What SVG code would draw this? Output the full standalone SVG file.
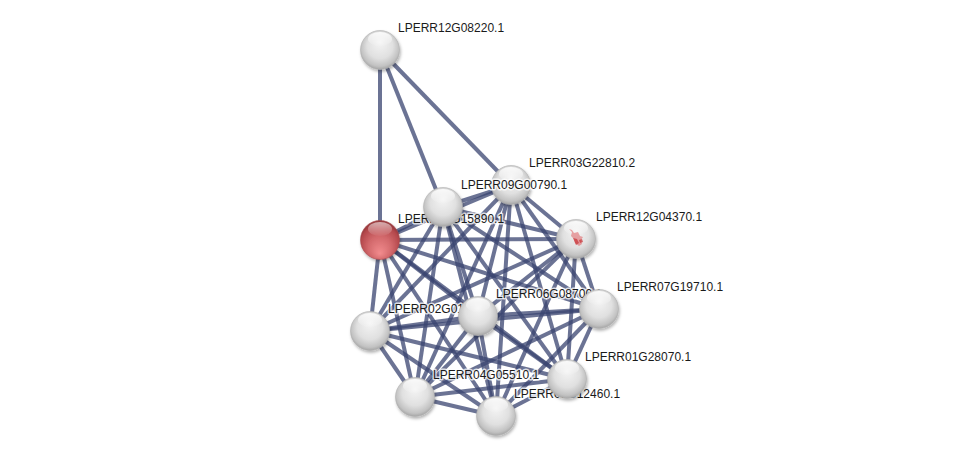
<svg xmlns="http://www.w3.org/2000/svg" width="976" height="461" viewBox="0 0 976 461">
<style>
.e{stroke:#3a4470;stroke-opacity:0.75;stroke-width:4;fill:none}
.lbl{font-family:"Liberation Sans",Arial,sans-serif;font-size:12px;fill:#1a1a1a;paint-order:stroke;stroke:#ffffff;stroke-opacity:0.75;stroke-width:3px;stroke-linejoin:round}
.n{fill:url(#gw);stroke:#b0b0b0;stroke-width:0.6;filter:url(#sh)}
.nr{fill:url(#gr);stroke:#a84a4e;stroke-width:0.6;filter:url(#sh)}
.gl{fill:url(#gloss)}
</style>
<defs>
<radialGradient id="gw" cx="0.5" cy="0.45" r="0.55" fx="0.5" fy="0.3">
<stop offset="0" stop-color="#f4f4f4"/>
<stop offset="0.6" stop-color="#e0e0e0"/>
<stop offset="0.88" stop-color="#c2c2c2"/>
<stop offset="1" stop-color="#a5a5a5"/>
</radialGradient>
<radialGradient id="gr" cx="0.5" cy="0.6" r="0.55" fx="0.5" fy="0.85">
<stop offset="0" stop-color="#f28c8e"/>
<stop offset="0.55" stop-color="#d2686b"/>
<stop offset="0.9" stop-color="#b4484c"/>
<stop offset="1" stop-color="#9a3a3e"/>
</radialGradient>
<linearGradient id="gloss" x1="0" y1="0" x2="0" y2="1">
<stop offset="0" stop-color="#ffffff" stop-opacity="0.85"/>
<stop offset="1" stop-color="#ffffff" stop-opacity="0.05"/>
</linearGradient>
<filter id="sh" x="-30%" y="-30%" width="170%" height="170%">
<feDropShadow dx="1" dy="2" stdDeviation="1.6" flood-color="#000" flood-opacity="0.3"/>
</filter>
</defs>
<rect width="976" height="461" fill="#ffffff"/>
<g id="edges">
<line class="e" x1="380" y1="50" x2="380" y2="240"/>
<line class="e" x1="380" y1="50" x2="443" y2="207"/>
<line class="e" x1="380" y1="50" x2="511" y2="185"/>
<line class="e" x1="511" y1="185" x2="443" y2="207"/>
<line class="e" x1="511" y1="185" x2="380" y2="240"/>
<line class="e" x1="511" y1="185" x2="576" y2="239"/>
<line class="e" x1="511" y1="185" x2="599" y2="309"/>
<line class="e" x1="511" y1="185" x2="478" y2="316"/>
<line class="e" x1="511" y1="185" x2="370" y2="331"/>
<line class="e" x1="511" y1="185" x2="567" y2="379"/>
<line class="e" x1="511" y1="185" x2="415" y2="397"/>
<line class="e" x1="511" y1="185" x2="496" y2="416"/>
<line class="e" x1="443" y1="207" x2="380" y2="240"/>
<line class="e" x1="443" y1="207" x2="576" y2="239"/>
<line class="e" x1="443" y1="207" x2="599" y2="309"/>
<line class="e" x1="443" y1="207" x2="478" y2="316"/>
<line class="e" x1="443" y1="207" x2="370" y2="331"/>
<line class="e" x1="443" y1="207" x2="567" y2="379"/>
<line class="e" x1="443" y1="207" x2="415" y2="397"/>
<line class="e" x1="443" y1="207" x2="496" y2="416"/>
<line class="e" x1="380" y1="240" x2="576" y2="239"/>
<line class="e" x1="380" y1="240" x2="599" y2="309"/>
<line class="e" x1="380" y1="240" x2="478" y2="316"/>
<line class="e" x1="380" y1="240" x2="370" y2="331"/>
<line class="e" x1="380" y1="240" x2="567" y2="379"/>
<line class="e" x1="380" y1="240" x2="415" y2="397"/>
<line class="e" x1="380" y1="240" x2="496" y2="416"/>
<line class="e" x1="576" y1="239" x2="599" y2="309"/>
<line class="e" x1="576" y1="239" x2="478" y2="316"/>
<line class="e" x1="576" y1="239" x2="370" y2="331"/>
<line class="e" x1="576" y1="239" x2="567" y2="379"/>
<line class="e" x1="576" y1="239" x2="415" y2="397"/>
<line class="e" x1="576" y1="239" x2="496" y2="416"/>
<line class="e" x1="599" y1="309" x2="478" y2="316"/>
<line class="e" x1="599" y1="309" x2="370" y2="331"/>
<line class="e" x1="599" y1="309" x2="567" y2="379"/>
<line class="e" x1="599" y1="309" x2="415" y2="397"/>
<line class="e" x1="599" y1="309" x2="496" y2="416"/>
<line class="e" x1="478" y1="316" x2="370" y2="331"/>
<line class="e" x1="478" y1="316" x2="567" y2="379"/>
<line class="e" x1="478" y1="316" x2="415" y2="397"/>
<line class="e" x1="478" y1="316" x2="496" y2="416"/>
<line class="e" x1="370" y1="331" x2="567" y2="379"/>
<line class="e" x1="370" y1="331" x2="415" y2="397"/>
<line class="e" x1="370" y1="331" x2="496" y2="416"/>
<line class="e" x1="567" y1="379" x2="415" y2="397"/>
<line class="e" x1="567" y1="379" x2="496" y2="416"/>
<line class="e" x1="415" y1="397" x2="496" y2="416"/>
</g>
<g id="n-LPERR12G08220.1"><circle class="n" cx="380" cy="50" r="19.5"/><ellipse class="gl" cx="380" cy="39" rx="12" ry="7"/><text class="lbl" x="398" y="32">LPERR12G08220.1</text></g>
<g id="n-LPERR04G15890.1"><circle class="nr" cx="380" cy="240" r="19.5"/><ellipse class="gl" cx="380" cy="229" rx="12" ry="7" opacity="0.7"/><text class="lbl" x="398" y="223">LPERR04G15890.1</text></g>
<g id="n-LPERR03G22810.2"><circle class="n" cx="511" cy="185" r="19.5"/><ellipse class="gl" cx="511" cy="174" rx="12" ry="7"/><text class="lbl" x="529" y="167">LPERR03G22810.2</text></g>
<g id="n-LPERR09G00790.1"><circle class="n" cx="443" cy="207" r="19.5"/><ellipse class="gl" cx="443" cy="196" rx="12" ry="7"/><text class="lbl" x="461" y="189">LPERR09G00790.1</text></g>
<g id="n-LPERR12G04370.1"><circle class="n" cx="576" cy="239" r="19.5"/><ellipse class="gl" cx="576" cy="228" rx="12" ry="7"/>
<path d="M569 229 l3 3 l-1 4 l3 3 l1 4 l4 3 l3 -2 l-1 -4 l2 -3 l-3 -1 l-2 -4 l-4 1 l-2 -3 z" fill="#e06a6e" fill-opacity="0.6"/>
<path d="M573 238 l4 1 l2 4 l-3 2 z M579 240 l3 -1 l1 3 l-3 1 z" fill="#c8383c" fill-opacity="0.75"/>
<text class="lbl" x="596" y="221">LPERR12G04370.1</text></g>
<g id="n-LPERR02G01140.1"><circle class="n" cx="370" cy="331" r="19.5"/><ellipse class="gl" cx="370" cy="320" rx="12" ry="7"/><text class="lbl" x="388" y="313">LPERR02G01140.1</text></g>
<g id="n-LPERR06G08700.1"><circle class="n" cx="478" cy="316" r="19.5"/><ellipse class="gl" cx="478" cy="305" rx="12" ry="7"/><text class="lbl" x="496" y="298">LPERR06G08700.1</text></g>
<g id="n-LPERR07G19710.1"><circle class="n" cx="599" cy="309" r="19.5"/><ellipse class="gl" cx="599" cy="298" rx="12" ry="7"/><text class="lbl" x="617" y="291">LPERR07G19710.1</text></g>
<g id="n-LPERR04G05510.1"><circle class="n" cx="415" cy="397" r="19.5"/><ellipse class="gl" cx="415" cy="386" rx="12" ry="7"/><text class="lbl" x="433" y="379">LPERR04G05510.1</text></g>
<g id="n-LPERR08G12460.1"><circle class="n" cx="496" cy="416" r="19.5"/><ellipse class="gl" cx="496" cy="405" rx="12" ry="7"/><text class="lbl" x="514" y="398">LPERR08G12460.1</text></g>
<g id="n-LPERR01G28070.1"><circle class="n" cx="567" cy="379" r="19.5"/><ellipse class="gl" cx="567" cy="368" rx="12" ry="7"/><text class="lbl" x="585" y="361">LPERR01G28070.1</text></g>
</svg>
